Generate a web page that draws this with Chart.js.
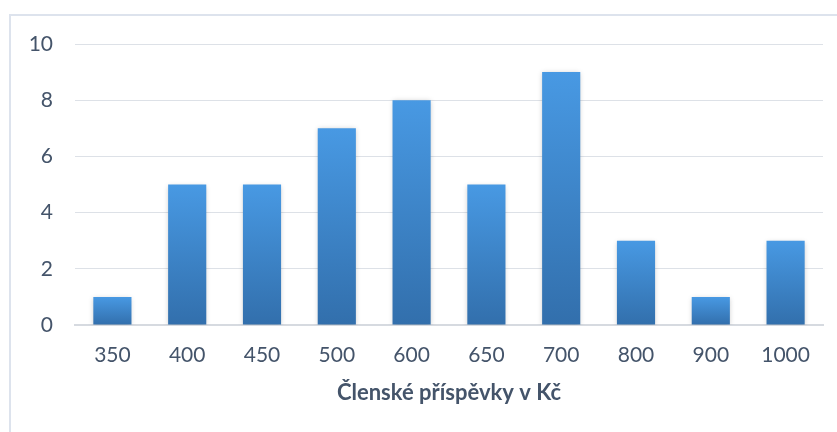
<!DOCTYPE html>
<html>
<head>
<meta charset="utf-8">
<script src="https://cdn.jsdelivr.net/npm/chart.js@4/dist/chart.umd.min.js"></script>
<style>
  html, body { margin: 0; padding: 0; background: #fff; }
  #wrap { position: relative; width: 837px; height: 432px; }
</style>
</head>
<body>
<div id="wrap"><canvas id="feeChart" width="837" height="432"></canvas></div>
<script>
var categories = ['350', '400', '450', '500', '600', '650', '700', '800', '900', '1000'];
var counts = [1, 5, 5, 7, 8, 5, 9, 3, 1, 3];
var axisTitle = 'Členské příspěvky v Kč';

var textColor = '#44546a';
var gridColor = '#dde1e7';

// frame lines at top and left, as in the original export
var framePlugin = {
    id: 'frame',
    beforeDraw: function(chart) {
        var c = chart.ctx;
        c.save();
        c.strokeStyle = '#dde3ed';
        c.lineWidth = 2;
        c.beginPath();
        c.moveTo(10, 432);
        c.lineTo(10, 15);
        c.lineTo(837, 15);
        c.stroke();
        c.restore();
    }
};

// soft shadow behind bars
var shadowPlugin = {
    id: 'barShadow',
    beforeDatasetsDraw: function(chart) {
        var c = chart.ctx;
        c.save();
        c.shadowColor = 'rgba(0,0,0,0.22)';
        c.shadowBlur = 5;
        c.shadowOffsetX = 0;
        c.shadowOffsetY = 1;
    },
    afterDatasetsDraw: function(chart) {
        chart.ctx.restore();
    }
};

// each bar gets its own light-to-dark gradient
function barGradient(context) {
    var chart = context.chart;
    var area = chart.chartArea;
    var yScale = chart.scales.y;
    if (!area || !yScale || context.raw === undefined) return '#3f87d0';
    var top = yScale.getPixelForValue(context.raw);
    var bottom = yScale.getPixelForValue(0);
    if (!isFinite(top) || bottom - top < 1) return '#3f87d0';
    var g = chart.ctx.createLinearGradient(0, top, 0, bottom);
    g.addColorStop(0, '#4899e3');
    g.addColorStop(1, '#326fac');
    return g;
}

var ctx = document.getElementById('feeChart').getContext('2d');
var feeChart = new Chart(ctx, {
    type: 'bar',
    data: {
        labels: categories,
        datasets: [{
            data: counts,
            backgroundColor: barGradient,
            borderWidth: 0,
            barPercentage: 1,
            categoryPercentage: 0.51
        }]
    },
    plugins: [framePlugin, shadowPlugin],
    options: {
        responsive: false,
        animation: false,
        layout: { padding: { top: 44, right: 14, left: 0, bottom: 0 } },
        plugins: {
            legend: { display: false },
            tooltip: { enabled: false }
        },
        scales: {
            x: {
                grid: { display: false, drawTicks: false },
                border: { display: true, color: '#d6dae0', width: 2 },
                ticks: {
                    color: textColor,
                    font: { family: 'Lato', size: 21 },
                    padding: 18,
                    maxRotation: 0
                },
                title: {
                    display: true,
                    text: axisTitle,
                    color: textColor,
                    font: { family: 'Lato', size: 22, weight: 'bold' },
                    padding: { top: 10, bottom: 26 }
                },
                afterFit: function(scale) { scale.height = 107; }
            },
            y: {
                min: 0,
                max: 10,
                ticks: {
                    stepSize: 2,
                    color: textColor,
                    font: { family: 'Lato', size: 21 },
                    padding: 22
                },
                grid: { color: gridColor, lineWidth: 1, drawTicks: false },
                border: { display: false },
                afterFit: function(scale) { scale.width = 75; }
            }
        }
    }
});
</script>
</body>
</html>
